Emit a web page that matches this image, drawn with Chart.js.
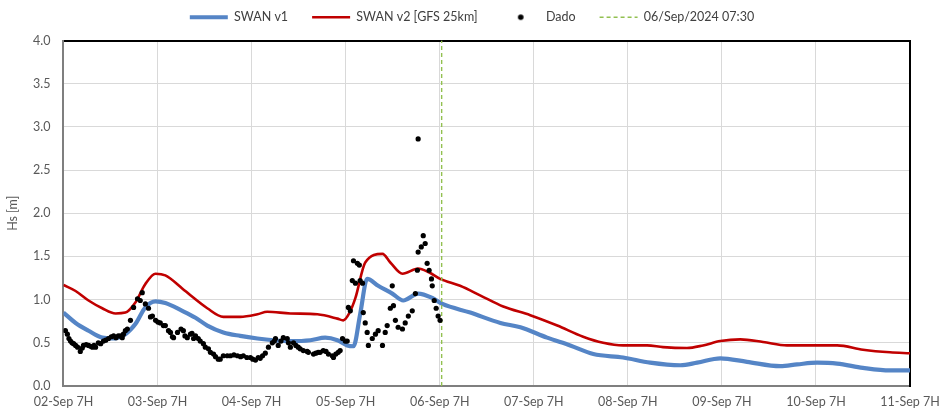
<!DOCTYPE html>
<html>
<head>
<meta charset="utf-8">
<script src="https://cdn.jsdelivr.net/npm/chart.js@4"></script>
<style>
  html, body { margin: 0; padding: 0; background: #fff; }
  #wrap { width: 939px; height: 411px; }
</style>
</head>
<body>
<div id="wrap"><canvas id="hsChart"></canvas></div>
<script>
// x axis: hours since 02-Sep 07:00
const dayLabels = ['02-Sep 7H', '03-Sep 7H', '04-Sep 7H', '05-Sep 7H', '06-Sep 7H',
                   '07-Sep 7H', '08-Sep 7H', '09-Sep 7H', '10-Sep 7H', '11-Sep 7H'];

const v1Hours = [0, 3.1, 6.4, 9.9, 12.5, 15.8, 18.4, 20.9, 23.5, 26.0, 30.3, 33.7, 36.7, 40.8,
                 45.1, 49.5, 53.6, 57.9, 63.0, 66.8, 69.9, 72.4, 74.0, 75.7, 77.5, 80.3, 83.9,
                 86.7, 90.5, 94.1, 96.7, 103.8, 111.5, 116.6, 123.4, 129.3, 135.2, 142.8, 149.7,
                 157.4, 161.7, 167.6, 174.4, 182.9, 187.2, 192.3, 197.4, 204.0, 210.9, 216];
const v1Values = [0.85, 0.73, 0.64, 0.56, 0.55, 0.60, 0.72, 0.91, 0.98, 0.96, 0.87, 0.79, 0.70, 0.62,
                  0.58, 0.55, 0.53, 0.52, 0.53, 0.56, 0.53, 0.47, 0.46, 0.83, 1.24, 1.16, 1.07,
                  0.99, 1.07, 1.02, 0.95, 0.85, 0.73, 0.68, 0.56, 0.47, 0.37, 0.33, 0.27,
                  0.24, 0.27, 0.32, 0.28, 0.23, 0.25, 0.27, 0.26, 0.21, 0.18, 0.18];

const v2Hours = [0, 3.1, 6.4, 9.9, 13.3, 15.8, 18.4, 20.9, 23.5, 26.0, 30.3, 32.4, 36.7, 40.8,
                 45.1, 49.5, 52.0, 57.9, 64.8, 69.9, 71.4, 72.9, 74.5, 77.0, 81.4, 83.4, 86.5,
                 90.5, 93.1, 96.1, 101.2, 106.3, 112.2, 119.1, 126.0, 132.6, 137.7, 142.8, 148.9,
                 153.0, 159.1, 163.2, 167.6, 172.7, 178.5, 184.6, 191.3, 197.4, 204.0, 210.9, 216];
const v2Values = [1.17, 1.10, 0.99, 0.90, 0.84, 0.85, 0.97, 1.18, 1.30, 1.28, 1.13, 1.05, 0.90, 0.80,
                  0.80, 0.83, 0.86, 0.84, 0.83, 0.78, 0.76, 0.84, 1.02, 1.43, 1.53, 1.43, 1.30,
                  1.36, 1.32, 1.24, 1.16, 1.05, 0.92, 0.82, 0.70, 0.57, 0.50, 0.47, 0.47,
                  0.45, 0.44, 0.47, 0.52, 0.54, 0.51, 0.47, 0.47, 0.47, 0.42, 0.39, 0.38];

const obsHours = [0.5, 1.0, 1.4, 1.8, 2.2, 2.6, 3.1, 3.6, 4.3, 4.8, 5.1, 5.8, 6.4, 6.9, 7.4, 7.8,
                  8.2, 8.9, 9.5, 10.2, 10.8, 11.5, 12.2, 12.8, 13.4, 14.0, 14.6, 15.0, 15.3, 15.8,
                  16.3, 17.1, 17.9, 18.9, 19.6, 20.1, 20.9, 21.7, 22.2, 22.7, 23.5, 24.1, 24.7,
                  25.5, 26.0, 26.8, 27.3, 27.8, 28.1, 29.1, 30.0, 30.6, 31.0, 31.6, 32.4, 32.8,
                  33.2, 33.7, 34.4, 34.9, 35.7, 36.2, 37.0, 37.5, 38.3, 38.8, 39.5, 40.0, 40.8,
                  41.8, 42.6, 43.5, 44.4, 45.2, 45.9, 46.8, 47.7, 48.3, 49.0, 49.7, 50.2, 50.8,
                  51.5, 52.3, 53.3, 53.8, 54.1, 54.8, 55.5, 56.1, 57.1, 57.4, 57.9, 58.7, 59.3,
                  59.9, 60.4, 61.2, 62.2, 62.5, 63.8, 64.4, 65.0, 65.5, 66.3, 67.0, 67.6, 68.6,
                  68.9, 69.5, 70.1, 70.6, 71.2, 71.9, 72.4,
                  72.7, 73.2, 73.7, 74.0, 74.5, 75.0, 75.5, 75.7, 76.3, 76.5,
                  77.0, 77.5, 77.8, 78.8, 79.6, 80.3, 81.4, 82.1, 82.6, 83.4, 83.9, 84.2, 84.7,
                  85.4, 86.5, 87.2, 88.0, 89.0, 89.8, 90.3, 90.5, 90.5, 91.3, 91.8, 92.3, 92.8,
                  93.3, 93.9, 94.1, 94.6, 95.1, 95.6, 96.1];
const obsValues = [0.64, 0.60, 0.55, 0.52, 0.50, 0.49, 0.47, 0.45, 0.40, 0.44, 0.47, 0.48, 0.47, 0.46, 0.45, 0.47,
                   0.45, 0.50, 0.49, 0.52, 0.53, 0.55, 0.57, 0.58, 0.56, 0.58, 0.58, 0.56, 0.60, 0.64,
                   0.66, 0.76, 0.91, 1.01, 0.99, 1.08, 0.95, 0.90, 0.80, 0.81, 0.76, 0.74, 0.73,
                   0.70, 0.70, 0.64, 0.62, 0.57, 0.56, 0.62, 0.66, 0.64, 0.58, 0.56, 0.60, 0.61,
                   0.55, 0.58, 0.55, 0.52, 0.49, 0.45, 0.43, 0.39, 0.37, 0.34, 0.31, 0.31, 0.35,
                   0.35, 0.35, 0.36, 0.35, 0.34, 0.35, 0.33, 0.33, 0.31, 0.30, 0.33, 0.32, 0.35,
                   0.38, 0.45, 0.50, 0.52, 0.55, 0.47, 0.52, 0.56, 0.55, 0.50, 0.45, 0.50, 0.47,
                   0.45, 0.43, 0.41, 0.40, 0.39, 0.37, 0.38, 0.39, 0.39, 0.41, 0.40, 0.37, 0.35,
                   0.33, 0.37, 0.39, 0.41, 0.55, 0.52, 0.52,
                   0.91, 0.87, 1.22, 1.45, 1.19, 1.42, 1.40, 1.22, 1.19, 0.85,
                   0.73, 0.62, 0.47, 0.55, 0.60, 0.64, 0.47, 0.62, 0.70, 0.90, 1.16, 0.93, 0.76,
                   0.68, 0.66, 0.73, 0.81, 0.87, 1.07, 1.34, 1.55, 2.86, 1.61, 1.74, 1.65, 1.42,
                   1.34, 1.24, 1.16, 0.99, 0.90, 0.81, 0.76];

const markerHour = 96.5;
const markerLabel = '06/Sep/2024 07:30';

const pts = (xs, ys) => xs.map((x, i) => ({ x: x, y: ys[i] }));

const FONT = 'Lato, "Open Sans", sans-serif';

// small dot for the legend entry of the observations
const dotImg = document.createElement('canvas');
dotImg.width = 10;
dotImg.height = 10;
const dctx = dotImg.getContext('2d');
dctx.fillStyle = '#000';
dctx.beginPath();
dctx.arc(5, 5, 2.8, 0, Math.PI * 2);
dctx.fill();

const ctx = document.getElementById('hsChart').getContext('2d');

new Chart(ctx, {
    type: 'line',
    data: {
        datasets: [{
            label: 'SWAN v1',
            data: pts(v1Hours, v1Values),
            borderColor: '#5585c6',
            borderWidth: 4.2,
            pointRadius: 0,
            cubicInterpolationMode: 'monotone',
            order: 2
        }, {
            label: 'SWAN v2 [GFS 25km]',
            data: pts(v2Hours, v2Values),
            borderColor: '#c00000',
            borderWidth: 2.6,
            pointRadius: 0,
            cubicInterpolationMode: 'monotone',
            order: 3
        }, {
            label: 'Dado',
            data: pts(obsHours, obsValues),
            showLine: false,
            pointRadius: 2.6,
            pointBackgroundColor: '#000',
            pointBorderWidth: 0,
            backgroundColor: '#000',
            borderColor: '#000',
            order: 0
        }, {
            label: markerLabel,
            data: [{ x: markerHour, y: 0 }, { x: markerHour, y: 4 }],
            borderColor: '#92c050',
            borderWidth: 1.4,
            borderDash: [4, 3],
            pointRadius: 0,
            order: 1
        }]
    },
    options: {
        responsive: true,
        maintainAspectRatio: false,
        animation: false,
        layout: { padding: { top: -13, left: 5, right: 0, bottom: -6 } },
        scales: {
            x: {
                type: 'linear',
                min: 0,
                max: 216,
                ticks: {
                    stepSize: 24,
                    color: '#595959',
                    font: { family: FONT, size: 12.5 },
                    padding: 8,
                    maxRotation: 0,
                    callback: (v) => dayLabels[v / 24]
                },
                grid: { color: '#d9d9d9', drawTicks: false },
                border: { color: '#7f7f7f', width: 2 },
                afterFit: (axis) => { axis.paddingRight = 29; }
            },
            xTop: {
                type: 'linear',
                position: 'top',
                min: 0,
                max: 216,
                ticks: { display: false },
                grid: { display: false, drawTicks: false },
                border: { color: '#000', width: 2 },
                afterFit: (axis) => { axis.height += 7; }
            },
            y: {
                min: 0,
                max: 4,
                ticks: {
                    stepSize: 0.5,
                    color: '#595959',
                    font: { family: FONT, size: 12.5 },
                    padding: 13,
                    callback: (v) => v.toFixed(1)
                },
                title: {
                    display: true,
                    text: 'Hs [m]',
                    color: '#595959',
                    padding: 0,
                    font: { family: FONT, size: 12.5 }
                },
                grid: { color: '#d9d9d9', drawTicks: false },
                border: { color: '#7f7f7f', width: 2 }
            },
            yRight: {
                position: 'right',
                min: 0,
                max: 4,
                ticks: { display: false },
                grid: { display: false, drawTicks: false },
                border: { color: '#000', width: 2 }
            }
        },
        plugins: {
            legend: {
                position: 'top',
                labels: {
                    usePointStyle: true,
                    pointStyleWidth: 38,
                    padding: 24,
                    color: '#404040',
                    font: { family: FONT, size: 12.5 },
                    sort: (a, b) => a.datasetIndex - b.datasetIndex,
                    generateLabels: (chart) => {
                        const items = Chart.defaults.plugins.legend.labels.generateLabels(chart);
                        items.forEach((it) => {
                            const ds = chart.data.datasets[it.datasetIndex];
                            it.pointStyle = it.datasetIndex === 2 ? dotImg : 'line';
                            it.lineDash = ds.borderDash || [];
                            it.lineWidth = ds.borderWidth || 1;
                        });
                        return items;
                    }
                }
            },
            tooltip: { enabled: false }
        }
    }
});
</script>
</body>
</html>
